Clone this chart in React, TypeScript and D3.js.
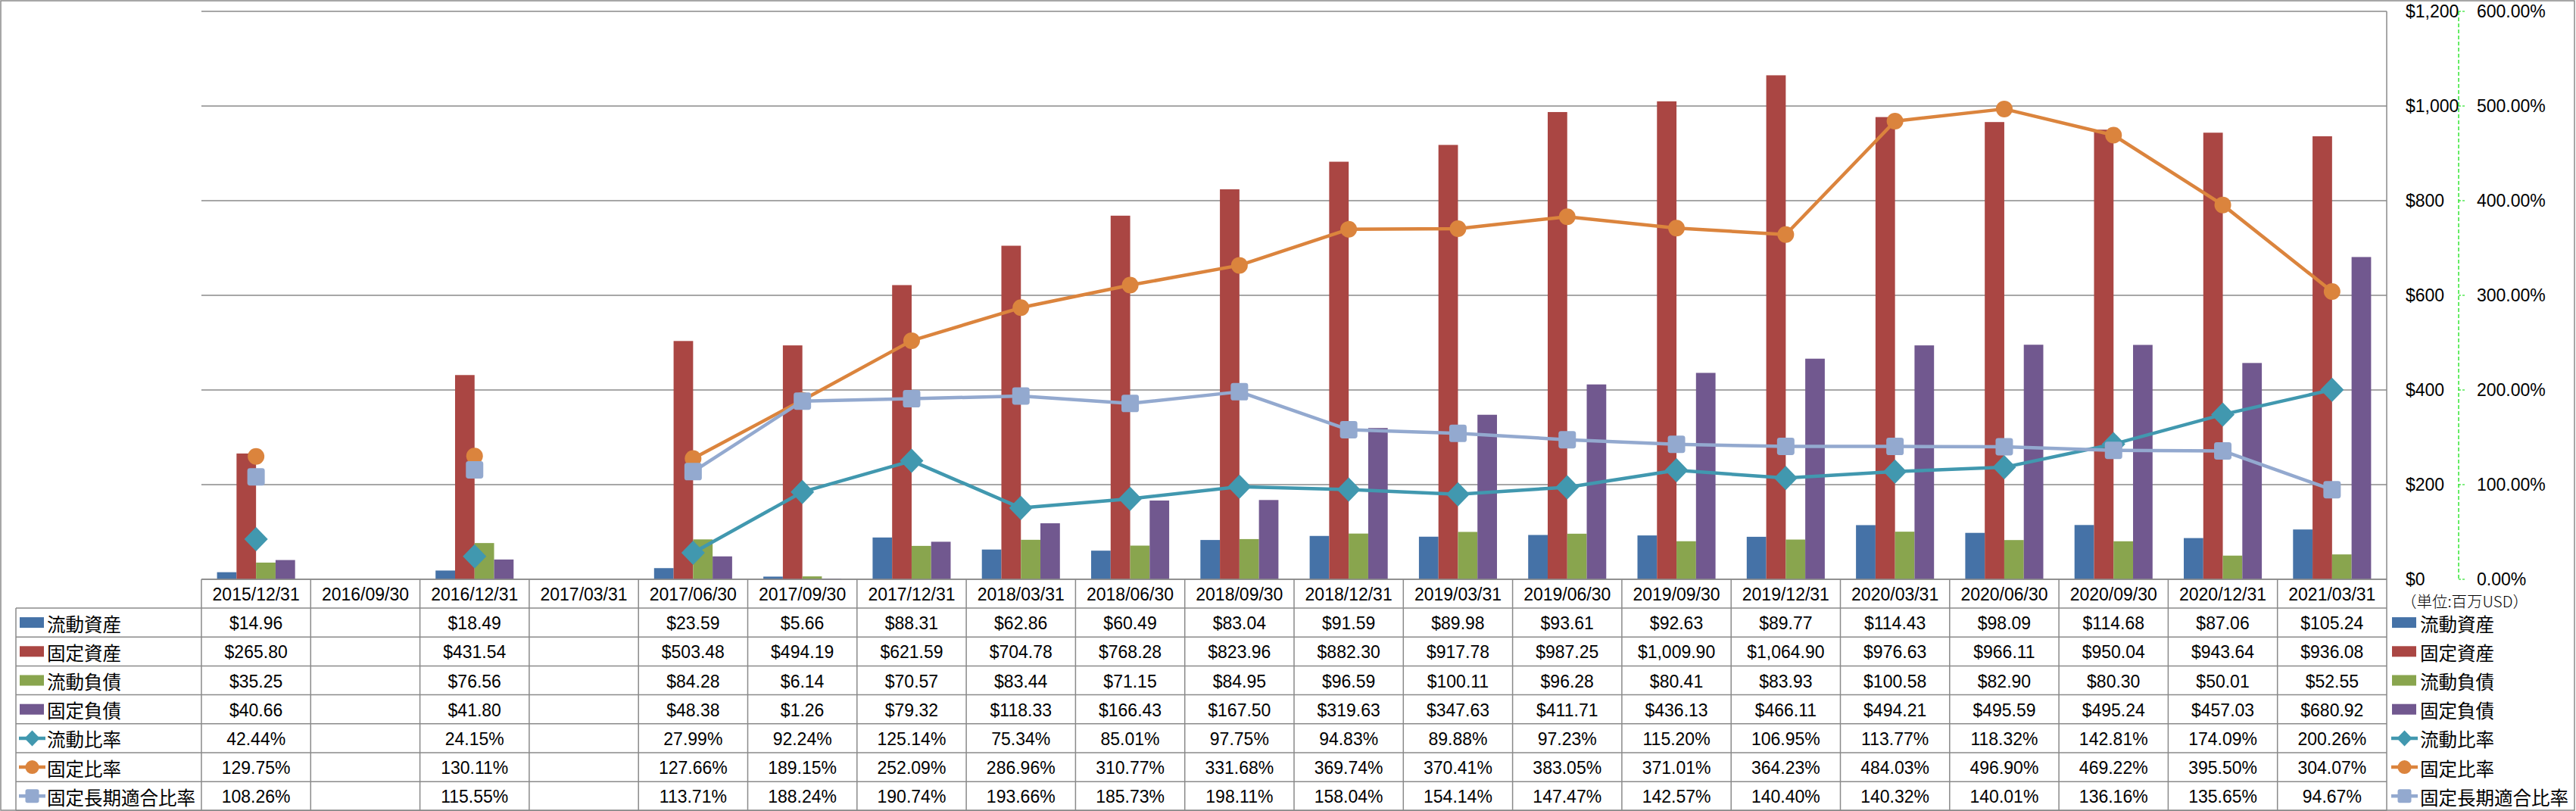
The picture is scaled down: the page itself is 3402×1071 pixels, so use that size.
import React, { useEffect } from 'react';
import * as d3 from 'd3';

const categories = [
  '2015/12/31', '2016/09/30', '2016/12/31', '2017/03/31', '2017/06/30', '2017/09/30', '2017/12/31',
  '2018/03/31', '2018/06/30', '2018/09/30', '2018/12/31', '2019/03/31', '2019/06/30', '2019/09/30',
  '2019/12/31', '2020/03/31', '2020/06/30', '2020/09/30', '2020/12/31', '2021/03/31',
];
const currentAssets = [14.96, null, 18.49, null, 23.59, 5.66, 88.31, 62.86, 60.49, 83.04, 91.59, 89.98, 93.61, 92.63, 89.77, 114.43, 98.09, 114.68, 87.06, 105.24];
const fixedAssets = [265.80, null, 431.54, null, 503.48, 494.19, 621.59, 704.78, 768.28, 823.96, 882.30, 917.78, 987.25, 1009.90, 1064.90, 976.63, 966.11, 950.04, 943.64, 936.08];
const currentLiabilities = [35.25, null, 76.56, null, 84.28, 6.14, 70.57, 83.44, 71.15, 84.95, 96.59, 100.11, 96.28, 80.41, 83.93, 100.58, 82.90, 80.30, 50.01, 52.55];
const fixedLiabilities = [40.66, null, 41.80, null, 48.38, 1.26, 79.32, 118.33, 166.43, 167.50, 319.63, 347.63, 411.71, 436.13, 466.11, 494.21, 495.59, 495.24, 457.03, 680.92];
const currentRatio = [42.44, null, 24.15, null, 27.99, 92.24, 125.14, 75.34, 85.01, 97.75, 94.83, 89.88, 97.23, 115.20, 106.95, 113.77, 118.32, 142.81, 174.09, 200.26];
const fixedRatio = [129.75, null, 130.11, null, 127.66, 189.15, 252.09, 286.96, 310.77, 331.68, 369.74, 370.41, 383.05, 371.01, 364.23, 484.03, 496.90, 469.22, 395.50, 304.07];
const fixedLongTermRatio = [108.26, null, 115.55, null, 113.71, 188.24, 190.74, 193.66, 185.73, 198.11, 158.04, 154.14, 147.47, 142.57, 140.40, 140.32, 140.01, 136.16, 135.65, 94.67];

const leftTicks = [0, 200, 400, 600, 800, 1000, 1200];
const rightTicks = [0, 100, 200, 300, 400, 500, 600];
const unitLabel = '（単位:百万USD）';

const barSeries = [
  { name: '流動資産', values: currentAssets, color: '#4572A7' },
  { name: '固定資産', values: fixedAssets, color: '#AA4643' },
  { name: '流動負債', values: currentLiabilities, color: '#89A54E' },
  { name: '固定負債', values: fixedLiabilities, color: '#71588F' },
];
const lineSeries = [
  { name: '流動比率', values: currentRatio, color: '#4198AF', marker: 'diamond' },
  { name: '固定比率', values: fixedRatio, color: '#DB843D', marker: 'circle' },
  { name: '固定長期適合比率', values: fixedLongTermRatio, color: '#93A9CF', marker: 'square' },
];

const W = 3402, H = 1071;
const plotL = 266, plotR = 3152, plotT = 15, plotB = 765;
const rowH = 38.2;
const headerH = 38;
const labelColL = 21;
const numFont = '"Liberation Sans", Arial, sans-serif';
const cjkFont = '"Noto Sans CJK JP", "Noto Sans CJK SC", sans-serif';
const gridColor = '#8a8a8a';

function Marker({ type, x, y, color, size }: { type: string; x: number; y: number; color: string; size: number }) {
  if (type === 'diamond') {
    const h = size / 2;
    return <path d={`M${x},${y - h}L${x + h * 0.97},${y}L${x},${y + h}L${x - h * 0.97},${y}Z`} fill={color} />;
  }
  if (type === 'circle') {
    return <circle cx={x} cy={y} r={size / 2} fill={color} />;
  }
  return <rect x={x - size / 2} y={y - size / 2} width={size} height={size} rx={size * 0.15} fill={color} />;
}

export default function App() {
  useEffect(() => {
    document.body.style.margin = '0';
  }, []);

  const x = d3.scaleBand<string>().domain(categories).range([plotL, plotR]).paddingInner(0).paddingOuter(0);
  const bw = x.bandwidth();
  const xSub = d3.scaleBand<number>().domain([0, 1, 2, 3]).range([0, bw]).paddingInner(0).paddingOuter(0.8);
  const y = d3.scaleLinear().domain([0, 1200]).range([plotB, plotT]);
  const y2 = d3.scaleLinear().domain([0, 600]).range([plotB, plotT]);
  const fmtMoney = d3.format('$,.2f');
  const fmtAxis = d3.format('$,');
  const fmtPct = (v: number) => v.toFixed(2) + '%';

  const rows = [
    ...barSeries.map((s) => ({ ...s, kind: 'bar', fmt: fmtMoney, marker: '' })),
    ...lineSeries.map((s) => ({ ...s, kind: 'line', fmt: fmtPct })),
  ];

  const rowTop = (i: number) => plotB + headerH + i * rowH;
  const tableBottom = rowTop(rows.length);
  const axisX = 3247;

  const legendIcon = (r: any, cx0: number, cy: number) => {
    if (r.kind === 'bar') {
      return <rect x={cx0} y={cy - 7} width={32} height={14} fill={r.color} />;
    }
    return (
      <g>
        <line x1={cx0 - 1} x2={cx0 + 34} y1={cy} y2={cy} stroke={r.color} strokeWidth={4.5} />
        <Marker type={r.marker} x={cx0 + 16.5} y={cy} color={r.color} size={r.marker === 'diamond' ? 21 : 18} />
      </g>
    );
  };

  return (
    <svg width={W} height={H} style={{ position: 'absolute', left: 0, top: 0, background: '#fff' }}>
      <rect x={0} y={0} width={W} height={H} fill="#fff" />
      {/* outer frame */}
      <rect x={1} y={1} width={W - 3} height={H - 2} fill="none" stroke="#8a8a8a" strokeWidth={1.5} />

      {/* gridlines */}
      {leftTicks.map((t) => (
        <line key={'g' + t} x1={plotL} x2={plotR} y1={y(t)} y2={y(t)} stroke={gridColor} strokeWidth={1.5} />
      ))}
      {/* plot right border */}
      <line x1={plotR} x2={plotR} y1={plotT} y2={tableBottom} stroke={gridColor} strokeWidth={1.5} />

      {/* bars */}
      {barSeries.map((s, si) => (
        <g key={s.name}>
          {categories.map((c, ci) => {
            const v = s.values[ci];
            if (v == null) return null;
            return (
              <rect key={c} x={(x(c) as number) + (xSub(si) as number)} y={y(v)} width={xSub.bandwidth()}
                height={plotB - y(v)} fill={s.color} />
            );
          })}
        </g>
      ))}

      {/* lines */}
      {lineSeries.map((s) => {
        const pts = categories.map((c, ci) => ({ c, v: s.values[ci] }));
        const line = d3.line<{ c: string; v: number | null }>()
          .defined((d) => d.v != null)
          .x((d) => (x(d.c) as number) + bw / 2)
          .y((d) => y2(d.v as number));
        return (
          <g key={s.name}>
            <path d={line(pts) || ''} fill="none" stroke={s.color} strokeWidth={4.5} strokeLinejoin="round" />
            {pts.map((p) => p.v == null ? null : (
              <Marker key={p.c} type={s.marker} x={(x(p.c) as number) + bw / 2} y={y2(p.v)} color={s.color}
                size={s.marker === 'diamond' ? 32 : s.marker === 'circle' ? 22 : 23} />
            ))}
          </g>
        );
      })}

      {/* left value axis labels (right side) */}
      {leftTicks.map((t) => (
        <text key={'l' + t} x={3177} y={y(t)} dominantBaseline="central" fontFamily={numFont} fontSize={23} fill="#000">
          {fmtAxis(t)}
        </text>
      ))}
      {/* secondary axis */}
      <line x1={axisX} x2={axisX} y1={plotT} y2={plotB} stroke="#00e000" strokeWidth={1.2} strokeDasharray="5,3" />
      {rightTicks.map((t) => (
        <line key={'t' + t} x1={axisX} x2={axisX + 9} y1={y2(t)} y2={y2(t)} stroke="#00e000" strokeWidth={1.2} strokeDasharray="3,2" />
      ))}
      {rightTicks.map((t) => (
        <text key={'r' + t} x={3271} y={y2(t)} dominantBaseline="central" fontFamily={numFont} fontSize={23} fill="#000">
          {t.toFixed(2) + '%'}
        </text>
      ))}
      <text x={3171} y={793} dominantBaseline="central" fontFamily={cjkFont} fontWeight={300} fontSize={20.5} fill="#000">
        {unitLabel}
      </text>

      {/* table */}
      <g>
        {/* header row */}
        <line x1={plotL} x2={plotR} y1={plotB} y2={plotB} stroke={gridColor} strokeWidth={1.5} />
        {categories.map((c) => (
          <text key={'h' + c} x={(x(c) as number) + bw / 2} y={plotB + headerH / 2 + 1} textAnchor="middle"
            dominantBaseline="central" fontFamily={numFont} fontSize={23} fill="#000">{c}</text>
        ))}
        {/* horizontal row lines */}
        {d3.range(rows.length + 1).map((i) => (
          <line key={'rl' + i} x1={labelColL} x2={plotR} y1={rowTop(i)} y2={rowTop(i)} stroke={gridColor} strokeWidth={1.5} />
        ))}
        {/* vertical lines */}
        <line x1={labelColL} x2={labelColL} y1={rowTop(0)} y2={tableBottom} stroke={gridColor} strokeWidth={1.5} />
        {categories.map((c) => (
          <line key={'v' + c} x1={x(c) as number} x2={x(c) as number} y1={plotB} y2={tableBottom} stroke={gridColor} strokeWidth={1.5} />
        ))}
        {rows.map((r, ri) => {
          const cy = rowTop(ri) + rowH / 2;
          return (
            <g key={'row' + r.name}>
              {legendIcon(r, 26, cy)}
              <text x={62} y={cy + 1} dominantBaseline="central" fontFamily={cjkFont} fontSize={24.5} fill="#000">{r.name}</text>
              {categories.map((c, ci) => {
                const v = r.values[ci];
                if (v == null) return null;
                return (
                  <text key={c} x={(x(c) as number) + bw / 2} y={cy + 1} textAnchor="middle" dominantBaseline="central"
                    fontFamily={numFont} fontSize={23} fill="#000">{r.fmt(v)}</text>
                );
              })}
              {/* right legend */}
              {legendIcon(r, 3159, cy)}
              <text x={3196} y={cy + 1} dominantBaseline="central" fontFamily={cjkFont} fontSize={24.5} fill="#000">{r.name}</text>
            </g>
          );
        })}
      </g>
    </svg>
  );
}
